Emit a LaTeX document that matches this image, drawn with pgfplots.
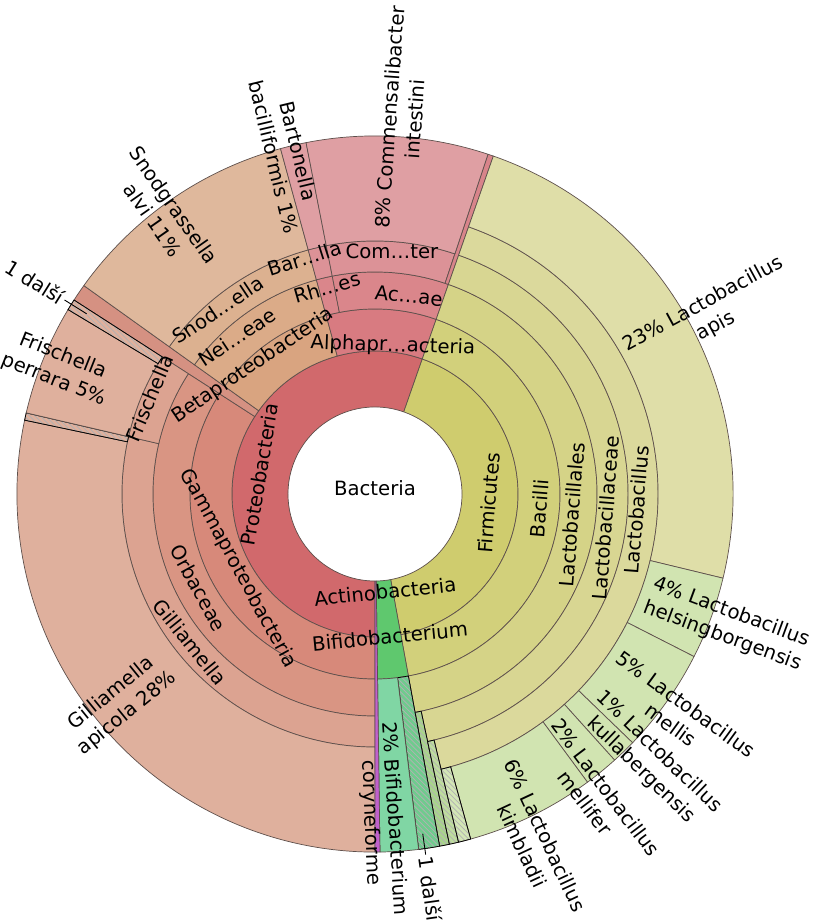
\documentclass[border=0pt]{standalone}
\usepackage{pgfplots}
\pgfplotsset{compat=1.18}
\usepackage{pgfplotstable}
\usepackage{fontspec}
\setmainfont{DejaVu Sans}
\usetikzlibrary{patterns}

% line break inside a table cell
\protected\def\nl{\\}
\newcommand\lbl{\fontsize{11.2}{14.5}\selectfont}
\def\pxu{0.02}% cm per pixel of the reference

\definecolor{edge}{HTML}{5E504C}
\definecolor{proteo}{HTML}{D1696C}
\definecolor{gamma}{HTML}{D7897A}
\definecolor{orbac}{HTML}{D99583}
\definecolor{gilli}{HTML}{DCA391}
\definecolor{apic}{HTML}{DFB09D}
\definecolor{band}{HTML}{D59182}
\definecolor{beta}{HTML}{D9A480}
\definecolor{neiss}{HTML}{DBAB88}
\definecolor{snodg}{HTML}{DCB190}
\definecolor{alvi}{HTML}{DFB89C}
\definecolor{alpha}{HTML}{D87B81}
\definecolor{rhizo}{HTML}{DA868B}
\definecolor{barto}{HTML}{DC9297}
\definecolor{alsp}{HTML}{DF9FA3}
\definecolor{acoth}{HTML}{D8848A}
\definecolor{firm}{HTML}{CFCC6E}
\definecolor{bacil}{HTML}{D2D07B}
\definecolor{lacord}{HTML}{D5D387}
\definecolor{lacfam}{HTML}{D8D692}
\definecolor{lacgen}{HTML}{DBD99C}
\definecolor{apis}{HTML}{DFDEA8}
\definecolor{lacsp}{HTML}{D1E4B1}
\definecolor{lacothA}{HTML}{A9D48C}
\definecolor{lacothB}{HTML}{BEDC9E}
\definecolor{lacothC}{HTML}{D3E6B6}
\definecolor{actino}{HTML}{5FC86E}
\definecolor{bifsp}{HTML}{80D6A4}
\definecolor{bifoth}{HTML}{6FCB8E}
\definecolor{coryn}{HTML}{C060CC}

% wedges: a1,a2 = bearing (deg, clockwise from top), r1,r2 = radii in px
\pgfplotstableread[col sep=comma]{
a1,a2,r1,r2,fc,hatch
180,379.3,87,143,proteo,0
180,302.8,143,185,gamma,0
302.8,305.6,143,358,band,0
305.6,344.7,143,185,beta,0
344.7,379.3,143,185,alpha,0
180,302.8,185,222,orbac,0
305.6,344.7,185,222,neiss,0
344.7,348.9,185,222,rhizo,0
348.9,379.3,185,222,rhizo,0
180,283.1,222,253,gilli,0
283.1,302.8,222,253,gilli,0
305.6,344.7,222,253,snodg,0
344.7,348.9,222,253,barto,0
348.9,378.4,222,253,barto,0
378.4,379.3,222,358,acoth,0
180,281.9,253,358,apic,0
281.9,283.1,253,358,apic,1
283.1,301.0,253,358,apic,0
301.0,302.8,253,358,apic,1
305.6,344.7,253,358,alvi,0
344.7,348.9,253,358,alsp,0
348.9,378.4,253,358,alsp,0
19.3,169.6,87,143,firm,0
19.3,169.6,143,185,bacil,0
19.3,169.6,185,222,lacord,0
19.3,168.0,222,253,lacfam,0
168.0,169.6,222,358,lacothA,1
19.3,166.5,253,283,lacgen,0
166.5,168.0,253,358,lacothB,1
19.3,103.6,283,358,apis,0
103.6,117.0,283,358,lacsp,0
117.0,134.0,283,358,lacsp,0
134.0,138.0,283,358,lacsp,0
138.0,143.6,283,358,lacsp,0
143.6,164.5,283,358,lacsp,0
164.5,166.5,283,358,lacothC,1
169.6,179.2,87,185,actino,0
169.6,173.0,185,358,bifoth,1
173.0,179.2,185,358,bifsp,0
179.2,180,87,358,coryn,0
}\sectors

% labels: th = bearing, r = radius (px), rot = rotation, anc 0 centre / 1 west / 2 east
\pgfplotstableread[col sep=comma]{
th,r,rot,anc,pr1,pr2,txt
0,6,0,0,0,0,Bacteria
279.6,117,80.4,0,0,0,Proteobacteria
94.5,114,85.5,0,0,0,Firmicutes
174,98,6,0,0,0,Actinobacteria
241.4,156,-61.4,0,0,0,Gammaproteobacteria
316.4,177,34,0,0,0,Betaproteobacteria
6.9,149,-2,0,0,0,Alphapr…acteria
174,143,5.5,0,0,0,Bifidobacterium
242,200,-61.4,0,0,0,Orbaceae
318.7,209,33.5,0,0,0,Nei…eae
346.9,212,16,0,0,0,Rh…es
9.7,201,-6,0,0,0,Ac…ae
95,165,85.5,0,0,0,Bacilli
96,198,85.5,0,0,0,Lactobacillales
96,232,85.5,0,0,0,Lactobacillaceae
93.5,262,85.5,0,0,0,Lactobacillus
231.3,237,-51.3,0,0,0,Gilliamella
293,245,67,0,0,0,Frischella
319.5,242,33.7,0,0,0,Snod…ella
343.3,246,17.7,0,0,0,Bar…lla
4,243,0,0,0,0,Com…ter
62,290,28.5,1,0,0,23\% Lactobacillus\nl apis
110.3,292,-20.3,1,0,0,4\% Lactobacillus\nl helsingborgensis
126,292,-36,1,0,0,5\% Lactobacillus\nl mellis
134.2,300,-44,1,0,0,1\% Lactobacillus\nl kullabergensis
144,290,-53,1,0,0,2\% Lactobacillus\nl mellifer
155.5,298,-65,1,0,0,6\% Lactobacillus\nl kimbladii
176.3,228,-86.3,1,0,0,2\% Bifidobacterium
181.5,266,-87.7,1,0,0,coryneforme
172,366,-82,1,343,364,1 další
302,368,-32,2,340,366,1 další
230.6,270,39,2,0,0,Gilliamella\nl apicola 28\%
291.7,285,-21.7,2,0,0,Frischella\nl perrara 5\%
322.6,283,-55,2,0,0,Snodgrassella\nl alvi 11\%
345,273,-76.6,2,0,0,Bartonella\nl bacilliformis 1\%
4.2,265,86,1,0,0,8\% Commensalibacter\nl intestini
}\labels

\pgfdeclareplotmark{nomark}{}

% read one cell of the current row
\newcommand\fetch[3]{\pgfplotstablegetelem{\idx}{#2}\of#3\let#1\pgfplotsretval}

\pgfplotsset{
  wedges/.style={
    scatter, only marks, mark=nomark,
    visualization depends on={\coordindex\as\rawidx},
    scatter/@pre marker code/.code={%
      \begin{scope}
        \pgftransformreset
        \pgfmathtruncatemacro\idx{\rawidx}%
        \fetch\aA{a1}\sectors \fetch\aB{a2}\sectors
        \fetch\rA{r1}\sectors \fetch\rB{r2}\sectors
        \fetch\fc{fc}\sectors \fetch\hA{hatch}\sectors
        \pgfmathsetmacro\pA{90-\aA}%
        \pgfmathsetmacro\pB{90-\aB}%
        \pgfmathsetmacro\RA{\rA*\pxu}%
        \pgfmathsetmacro\RB{\rB*\pxu}%
        \path[fill=\fc, draw=edge, line width=0.4pt, line join=round]
          (\pA:\RA cm) -- (\pA:\RB cm)
          arc[start angle=\pA, end angle=\pB, radius=\RB cm]
          -- (\pB:\RA cm)
          arc[start angle=\pB, end angle=\pA, radius=\RA cm] -- cycle;
        \ifnum\hA>0
          \path[pattern=north west lines, pattern color=black!30]
            (\pA:\RA cm) -- (\pA:\RB cm)
            arc[start angle=\pA, end angle=\pB, radius=\RB cm]
            -- (\pB:\RA cm)
            arc[start angle=\pB, end angle=\pA, radius=\RA cm] -- cycle;
        \fi
      \end{scope}
    },
    scatter/@post marker code/.code={},
  },
  tags/.style={
    scatter, only marks, mark=nomark,
    visualization depends on={\coordindex\as\rawidx},
    scatter/@pre marker code/.code={%
      \begin{scope}
        \pgftransformreset
        \pgfmathtruncatemacro\idx{\rawidx}%
        \fetch\tTh{th}\labels \fetch\tR{r}\labels
        \fetch\tRot{rot}\labels \fetch\tAnc{anc}\labels
        \fetch\tPa{pr1}\labels \fetch\tPb{pr2}\labels
        \fetch\tTxt{txt}\labels
        \pgfmathsetmacro\pA{90-\tTh}%
        \pgfmathsetmacro\RA{\tR*\pxu}%
        \ifcase\tAnc\relax \def\anc{center}\or \def\anc{west}\or \def\anc{east}\fi
        \ifnum\tPb>0
          \pgfmathsetmacro\PA{\tPa*\pxu}%
          \pgfmathsetmacro\PB{\tPb*\pxu}%
          \draw[black, line width=0.5pt] (\pA:\PA cm) -- (\pA:\PB cm);
        \fi
        \node[rotate=\tRot, anchor=\anc, align=center, font=\lbl,
              inner sep=0pt, text=black] at (\pA:\RA cm) {\tTxt};
      \end{scope}
    },
    scatter/@post marker code/.code={},
  },
}

\begin{document}
\begin{tikzpicture}
\useasboundingbox (-7.5,-8.6) rectangle (8.8,9.88);
\clip (-7.5,-8.6) rectangle (8.8,9.88);
\begin{axis}[
    anchor=origin, at={(0,0)},
    x=0.02cm, y=0.02cm,
    xmin=0, xmax=400, ymin=0, ymax=400,
    hide axis, clip=false,
]
    \addplot[wedges] table[x=a1, y=r1] {\sectors};
    \addplot[tags] table[x=th, y=r] {\labels};
\end{axis}
\end{tikzpicture}
\end{document}
